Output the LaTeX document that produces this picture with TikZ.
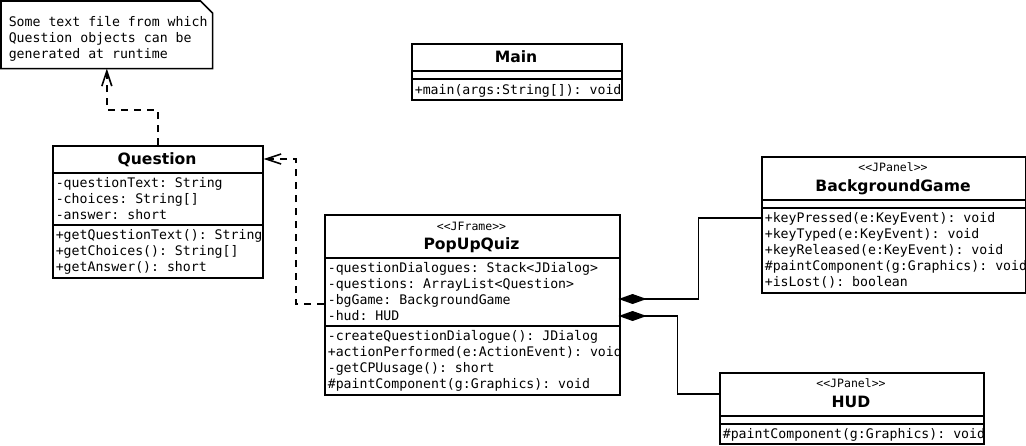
\documentclass[tikz,border=0pt]{standalone}
\usepackage{fontspec}
\setmainfont{DejaVu Sans}
\setmonofont{DejaVu Sans Mono}
\usetikzlibrary{arrows.meta}
\begin{document}
\begin{tikzpicture}[x=1pt,y=-1pt,line width=1.6pt,
  box/.style={draw,rectangle,inner sep=0pt,anchor=north west},
  mem/.style={anchor=base west,inner sep=0pt,font=\ttfamily\fontsize{13.2}{16}\selectfont},
  ttl/.style={anchor=base,inner sep=0pt,font=\bfseries\fontsize{15.6}{18}\selectfont},
  ster/.style={anchor=base,inner sep=0pt,font=\ttfamily\fontsize{11.5}{14}\selectfont},
  sep/.style={line width=1.6pt},
  dep/.style={dash pattern=on 7pt off 6pt,-{Straight Barb[length=15pt,width=10pt]}},
  comp/.style={{Diamond[length=28pt,width=10pt]}-,shorten <=-2pt}]
\fill[white] (0,0) rectangle (1026,445);
\useasboundingbox (0,0) rectangle (1026,445);

% note
\node[inner sep=0pt,minimum width=210pt,minimum height=66pt,anchor=north west] (note) at (1,1) {};
\draw (note.north west) -- ([xshift=-12pt]note.north east) -- ([yshift=-12pt]note.north east) -- (note.south east) -- (note.south west) -- cycle;
\node[mem] (n1) at (8,26.5) {Some text file from which};
\node[mem] (n2) at (8,42.5) {Question objects can be};
\node[mem] (n3) at (8,58.5) {generated at runtime};

% Main
\node[box,minimum width=210pt,minimum height=56pt] (main) at (411,43) {};
\draw[sep] ([yshift=-28pt]main.north west) -- ([yshift=-28pt]main.north east);
\draw[sep] ([yshift=-36pt]main.north west) -- ([yshift=-36pt]main.north east);
\begin{scope}
\clip (main.north west) rectangle (main.south east);
\node[ttl] (mainT) at (516,62) {Main};
\node[mem] (mainM1) at (414,94) {+main(args:String[]): void};
\end{scope}

% Question
\node[box,minimum width=210pt,minimum height=132pt] (question) at (52,145) {};
\draw[sep] ([yshift=-28pt]question.north west) -- ([yshift=-28pt]question.north east);
\draw[sep] ([yshift=-80pt]question.north west) -- ([yshift=-80pt]question.north east);
\begin{scope}
\clip (question.north west) rectangle (question.south east);
\node[ttl] (qT) at (157,164) {Question};
\node[mem] (qA1) at (55,187) {-questionText: String};
\node[mem] (qA2) at (55,203) {-choices: String[]};
\node[mem] (qA3) at (55,219) {-answer: short};
\node[mem] (qM1) at (55,239) {+getQuestionText(): String};
\node[mem] (qM2) at (55,255) {+getChoices(): String[]};
\node[mem] (qM3) at (55,271) {+getAnswer(): short};
\end{scope}

% PopUpQuiz
\node[box,minimum width=295pt,minimum height=180pt] (popup) at (324,214) {};
\draw[sep] ([yshift=-44pt]popup.north west) -- ([yshift=-44pt]popup.north east);
\draw[sep] ([yshift=-112pt]popup.north west) -- ([yshift=-112pt]popup.north east);
\begin{scope}
\clip (popup.north west) rectangle (popup.south east);
\node[ster] (pS) at (471.5,230) {{<}{<}JFrame{>}{>}};
\node[ttl] (pT) at (471.5,249) {PopUpQuiz};
\node[mem] (pA1) at (327,272) {-questionDialogues: Stack<JDialog>};
\node[mem] (pA2) at (327,288) {-questions: ArrayList<Question>};
\node[mem] (pA3) at (327,304) {-bgGame: BackgroundGame};
\node[mem] (pA4) at (327,320) {-hud: HUD};
\node[mem] (pM1) at (327,340) {-createQuestionDialogue(): JDialog};
\node[mem] (pM2) at (327,356) {+actionPerformed(e:ActionEvent): void};
\node[mem] (pM3) at (327,372) {-getCPUusage(): short};
\node[mem] (pM4) at (327,388) {\#paintComponent(g:Graphics): void};
\end{scope}

% BackgroundGame
\node[box,minimum width=264pt,minimum height=136pt] (bg) at (761,156) {};
\draw[sep] ([yshift=-44pt]bg.north west) -- ([yshift=-44pt]bg.north east);
\draw[sep] ([yshift=-52pt]bg.north west) -- ([yshift=-52pt]bg.north east);
\begin{scope}
\clip (bg.north west) rectangle (bg.south east);
\node[ster] (bS) at (893,171.5) {{<}{<}JPanel{>}{>}};
\node[ttl] (bT) at (893,191) {BackgroundGame};
\node[mem] (bM1) at (764,222) {+keyPressed(e:KeyEvent): void};
\node[mem] (bM2) at (764,238) {+keyTyped(e:KeyEvent): void};
\node[mem] (bM3) at (764,254) {+keyReleased(e:KeyEvent): void};
\node[mem] (bM4) at (764,270) {\#paintComponent(g:Graphics): void};
\node[mem] (bM5) at (764,286) {+isLost(): boolean};
\end{scope}

% HUD
\node[box,minimum width=264pt,minimum height=71pt] (hud) at (719,372) {};
\draw[sep] ([yshift=-44pt]hud.north west) -- ([yshift=-44pt]hud.north east);
\draw[sep] ([yshift=-52pt]hud.north west) -- ([yshift=-52pt]hud.north east);
\begin{scope}
\clip (hud.north west) rectangle (hud.south east);
\node[ster] (hS) at (851,387.5) {{<}{<}JPanel{>}{>}};
\node[ttl] (hT) at (851,407) {HUD};
\node[mem] (hM1) at (722,438) {\#paintComponent(g:Graphics): void};
\end{scope}

% connectors
\draw[dep] (question.north) -- ++(0,-35) -| (note.south);
\draw[dep] ([yshift=-90pt]popup.north west) -- ++(-28,0) |- ([yshift=-14pt]question.north east);
\draw[comp] ([yshift=-85pt]popup.north east) -- ++(78,0) |- ([yshift=-62pt]bg.north west);
\draw[comp] ([yshift=-102pt]popup.north east) -- ++(57,0) |- ([yshift=-22pt]hud.north west);
\end{tikzpicture}
\end{document}
